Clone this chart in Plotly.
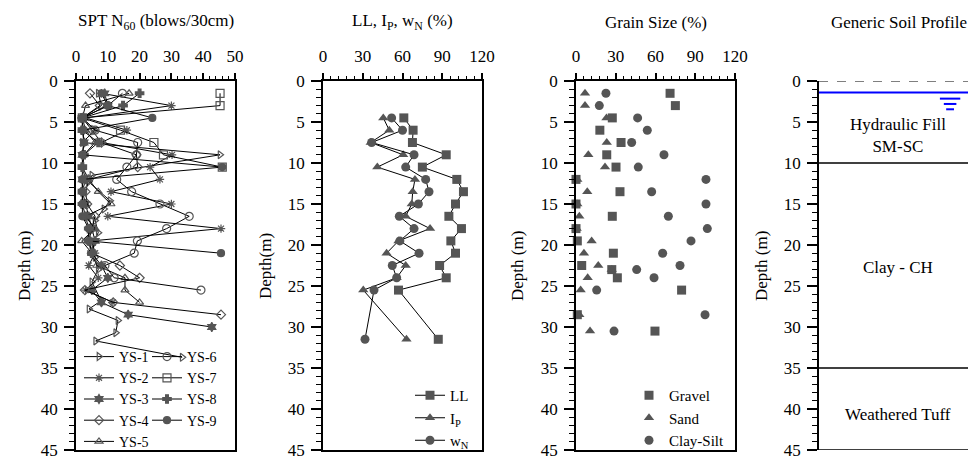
import plotly.graph_objects as go

FONT = "Liberation Serif, Times New Roman, DejaVu Serif, serif"
GRAY = "#555555"

# ---- SPT N60 (blows/30cm) per borehole ----
ys1_depth = [1.5, 3, 4.5, 6, 7.5, 9, 11.5, 12.3, 14.6, 15.6, 17, 18.5, 20, 21.5, 23, 24.5, 26.8, 27.8, 29.2, 30.7, 31.7, 33.7]
ys1_n = [7, 8, 2, 6, 2, 45.3, 5, 4, 10.7, 8.8, 6, 7, 5, 6, 7, 5, 7.9, 4.1, 13.2, 12.5, 6.2, 33.4]

ys2_depth = [1.5, 3, 4.5, 6, 7.5, 9, 10.5, 12, 13.5, 15, 16.5, 18, 19.5, 21, 22.5, 24, 25.5, 27]
ys2_n = [8, 30, 3, 16, 8, 30.2, 23.3, 26.4, 11, 30, 10, 45.6, 5, 6, 4, 7, 3, 11.6]

ys3_depth = [1.5, 3, 4.5, 6, 7.5, 9, 10.5, 12, 13.5, 15, 16.5, 18, 19.5, 21, 22.5, 24, 25.5, 27, 28.5, 30]
ys3_n = [9, 10, 2, 2, 2.5, 2, 2, 2, 2, 3, 4, 5, 6, 5, 8, 10, 5, 8, 16.4, 42.7]

ys4_depth = [1.5, 3, 4.5, 6, 7.5, 9, 10.5, 12, 13.5, 15, 16.5, 18, 19.5, 21, 22.5, 24, 25.5, 27, 28.5]
ys4_n = [4.4, 7.5, 2, 5, 8, 19, 19.4, 4, 3, 3.5, 6, 5, 4, 5, 13.8, 20, 2.8, 11.7, 45.6]

ys5_depth = [1.5, 3, 4.5, 6, 7.5, 9, 10.5, 12, 13.5, 15, 16.5, 18, 19.5, 21, 22.5, 24, 25.5, 27]
ys5_n = [16.7, 3, 2, 3, 6, 2.5, 2, 4, 7, 11, 3, 6, 1.8, 5, 6.5, 15.4, 15.4, 20]

ys6_depth = [1.5, 3, 4.5, 6, 7.5, 9, 10.5, 12, 13.5, 15, 16.5, 18, 19.5, 21, 22.5, 24, 25.5]
ys6_n = [14.6, 10, 2, 6, 19.4, 19, 16, 12.8, 17.5, 26.4, 35.6, 28.5, 19.3, 18.3, 9.1, 12, 39.3]

ys7_depth = [1.5, 3, 4.5, 6, 7.5, 9, 10.5]
ys7_n = [45.3, 45.3, 2, 14, 24.5, 27.5, 46]

ys8_depth = [1.5, 3, 4.5, 6, 7.5, 9, 10.5, 12, 13.5, 15, 16.5, 18, 19.5, 21]
ys8_n = [20, 14.8, 2, 2, 7, 2.5, 2, 3, 2, 2, 3, 4, 4, 5]

ys9_depth = [1.5, 3, 4.5, 6, 7.5, 9, 10.5, 12, 13.5, 15, 16.5, 18, 19.5, 21]
ys9_n = [8, 10, 24, 2.2, 2.5, 2, 46, 2, 2, 2, 2, 4, 4, 45.6]

# ---- Atterberg limits / water content (%) ----
ll_depth = [4.5, 6, 7.5, 9, 10.5, 12, 13.5, 15, 16.5, 18, 19.5, 21, 22.5, 24, 25.5, 31.5]
ll = [61, 68, 67.5, 93, 75, 101, 106, 100, 95, 104.5, 96.5, 100, 88, 93, 57, 87]
ip_depth = [4.5, 6, 7.5, 9, 10.5, 12, 13.5, 15, 16.5, 18, 19.5, 21, 22.5, 24, 25.5, 31.5]
ip = [45.5, 50, 36, 60.5, 41, 69.4, 67.7, 67, 62.4, 80.8, 57, 48, 62.4, 55.6, 30.4, 63]
wn_depth = [4.5, 6, 7.5, 9, 10.5, 12, 13.5, 15, 16.5, 18, 19.5, 21, 22.5, 24, 25.5, 31.5]
wn = [51.8, 60, 36.7, 68.7, 62.4, 77.5, 80, 72, 57.6, 68.7, 58, 72.5, 52.3, 55.6, 38.5, 31.7]

# ---- Grain size (%) ----
gravel_depth = [1.5, 3, 4.5, 6, 7.5, 9, 10.5, 12, 13.5, 15, 16.5, 18, 19.5, 21, 22.5, 23, 24, 25.5, 28.5, 30.5]
gravel = [71, 75, 27.4, 18, 34, 23.2, 30.2, 0, 33.2, 0, 27.4, 0, 1, 28.2, 4.3, 27, 31.2, 79.7, 1, 59.6]
sand_depth = [1.5, 3, 4.5, 7.5, 9, 10.5, 12, 13.5, 15, 16.5, 18, 19.5, 21, 22.5, 23, 24, 25.5, 28.5, 30.5]
sand = [6.8, 6.8, 23, 23.2, 9.3, 21.9, 1, 8.5, 1, 2.5, 0.5, 11.8, 6, 16.8, 27, 8.8, 3.5, 2.5, 10.6]
clay_depth = [1.5, 3, 4.5, 6, 7.5, 9, 10.5, 12, 13.5, 15, 16.5, 18, 19.5, 21, 22.5, 23, 24, 25.5, 28.5, 30.5]
clay = [22.6, 17.6, 46.5, 53.8, 42, 66.4, 47, 98.1, 57.1, 98.1, 69.7, 99.1, 86.8, 65.4, 78.5, 45.8, 58.9, 15.6, 97.4, 28.7]

# ---- Generic soil profile ----
layer_tops = [0, 10, 35]
layer_names = ["Hydraulic Fill<br>SM-SC", "Clay - CH", "Weathered Tuff"]
layer_label_depth = [6.6, 22.8, 40.7]
water_table = 1.4

# the page body has an 8px margin, so the figure is drawn 8px in from the window corner
OFF = 8
W, H = 976 - OFF, 457 - OFF


def px_x(px):
    return (px - OFF) / W


def px_y(py):
    return (457 - py) / H


X_DOM = [[px_x(76), px_x(235)], [px_x(323), px_x(482)], [px_x(576), px_x(735)], [px_x(819), 1.0]]
Y_DOM = [px_y(450), px_y(81)]

fig = go.Figure()

spt = [
    ("YS-1", ys1_depth, ys1_n, "triangle-right-open", 7, "legend"),
    ("YS-2", ys2_depth, ys2_n, "asterisk-open", 7, "legend"),
    ("YS-3", ys3_depth, ys3_n, "hexagram", 7, "legend"),
    ("YS-4", ys4_depth, ys4_n, "diamond-open", 7, "legend"),
    ("YS-5", ys5_depth, ys5_n, "triangle-up-open", 7, "legend"),
    ("YS-6", ys6_depth, ys6_n, "circle-open", 8, "legend2"),
    ("YS-7", ys7_depth, ys7_n, "square-open", 8, "legend2"),
    ("YS-8", ys8_depth, ys8_n, "cross", 7, "legend2"),
    ("YS-9", ys9_depth, ys9_n, "circle-cross", 7, "legend2"),
]
for name, d, n, sym, sz, lg in spt:
    fig.add_trace(go.Scatter(
        x=n, y=d, name=name, mode="lines+markers", xaxis="x", yaxis="y",
        line=dict(color="black", width=1),
        marker=dict(symbol=sym, size=sz, color=GRAY, line=dict(color=GRAY, width=1.2)),
        cliponaxis=False, legend=lg))

for name, d, v, sym in [("LL", ll_depth, ll, "square"),
                        ("I<sub>P</sub>", ip_depth, ip, "triangle-up"),
                        ("w<sub>N</sub>", wn_depth, wn, "circle")]:
    fig.add_trace(go.Scatter(
        x=v, y=d, name=name, mode="lines+markers", xaxis="x2", yaxis="y2",
        line=dict(color="black", width=1),
        marker=dict(symbol=sym, size=9, color=GRAY),
        cliponaxis=False, legend="legend3"))

for name, d, v, sym in [("Gravel", gravel_depth, gravel, "square"),
                        ("Sand", sand_depth, sand, "triangle-up"),
                        ("Clay-Silt", clay_depth, clay, "circle")]:
    fig.add_trace(go.Scatter(
        x=v, y=d, name=name, mode="markers", xaxis="x3", yaxis="y3",
        marker=dict(symbol=sym, size=9, color=GRAY),
        cliponaxis=False, legend="legend4"))


def xax(i, rng, dtick, mdtick, show=True):
    return dict(
        domain=X_DOM[i], range=rng, side="top", anchor="y" if i == 0 else "y%d" % (i + 1),
        showline=show, linecolor="black", linewidth=1.5, mirror=True,
        ticks="outside" if show else "", ticklen=6, tickwidth=1.5, tickcolor="black",
        tick0=0, dtick=dtick, showticklabels=show,
        minor=dict(dtick=mdtick, ticks="outside" if show else "", ticklen=3, tickwidth=1, tickcolor="black"),
        showgrid=False, zeroline=False, ticklabelstandoff=4,
        tickfont=dict(family=FONT, size=17, color="black"))


def yax(i, mirror=True):
    return dict(
        domain=Y_DOM, range=[45, 0], anchor="x" if i == 0 else "x%d" % (i + 1),
        showline=True, linecolor="black", linewidth=1.5, mirror=mirror,
        ticks="outside", ticklen=10, tickwidth=1.5, tickcolor="black",
        tick0=0, dtick=5, ticklabeloverflow="allow",
        minor=dict(dtick=1, ticks="outside", ticklen=5, tickwidth=1, tickcolor="black"),
        showgrid=False, zeroline=False, ticklabelstandoff=3,
        tickfont=dict(family=FONT, size=17, color="black"))


def leg(px, py, size):
    return dict(x=px_x(px), y=px_y(py), xanchor="left", yanchor="top", maxheight=200,
                font=dict(family=FONT, size=size, color="black"), bgcolor="rgba(0,0,0,0)",
                tracegroupgap=0, itemwidth=30)


fig.update_layout(
    width=W, height=H, margin=dict(l=0, r=0, t=0, b=0, autoexpand=False),
    paper_bgcolor="white", plot_bgcolor="white",
    font=dict(family=FONT, size=16, color="black"),
    xaxis=xax(0, [0, 50], 10, 2),
    xaxis2=xax(1, [0, 120], 30, 6),
    xaxis3=xax(2, [0, 120], 30, 6),
    xaxis4=xax(3, [0, 1], 1, 1, show=False),
    yaxis=yax(0), yaxis2=yax(1), yaxis3=yax(2), yaxis4=yax(3, mirror=False),
    legend=leg(79, 341, 14),
    legend2=leg(147, 341, 14),
    legend3=leg(410, 379, 15),
    legend4=leg(629, 379, 15),
)

# generic soil profile lines
shapes = [dict(type="line", xref="x4", yref="y4", x0=0, x1=1, y0=0, y1=0,
               line=dict(color="black", width=1.2, dash="dash")),
          dict(type="line", xref="x4", yref="y4", x0=0, x1=1, y0=45, y1=45,
               line=dict(color="black", width=1.5))]
for t in layer_tops[1:]:
    shapes.append(dict(type="line", xref="x4", yref="y4", x0=0, x1=1, y0=t, y1=t,
                       line=dict(color="black", width=1.5)))
shapes.append(dict(type="line", xref="x4", yref="y4", x0=0, x1=1, y0=water_table, y1=water_table,
                   line=dict(color="blue", width=2)))
for k, (a, b) in enumerate([(0.77, 0.90), (0.795, 0.875), (0.81, 0.86)]):
    yy = water_table + 0.75 + 0.65 * k
    shapes.append(dict(type="line", xref="x4", yref="y4", x0=a, x1=b, y0=yy, y1=yy,
                       line=dict(color="blue", width=2)))
fig.update_layout(shapes=shapes)

ann = []
titles = ["SPT N<sub>60</sub> (blows/30cm)", "LL, I<sub>P</sub>, w<sub>N</sub> (%)",
          "Grain Size (%)", "Generic Soil Profile"]
for t, cx in zip(titles, [155.5, 402.5, 655.5, 898.5]):
    ann.append(dict(text=t, x=px_x(cx), y=px_y(22),
                    xref="paper", yref="paper", showarrow=False, xanchor="center", yanchor="middle",
                    font=dict(family=FONT, size=17, color="black")))
for cx, t in [(24, "Depth (m)"), (265, "Depth(m)"), (517, "Depth (m)"), (761, "Depth (m)")]:
    ann.append(dict(text=t, x=px_x(cx), y=px_y(266), xref="paper", yref="paper", textangle=-90,
                    showarrow=False, xanchor="center", yanchor="middle",
                    font=dict(family=FONT, size=17, color="black")))
for name, d in zip(layer_names, layer_label_depth):
    ann.append(dict(text=name, x=px_x(898), y=d, xref="paper", yref="y4", showarrow=False,
                    xanchor="center", yanchor="middle",
                    font=dict(family=FONT, size=17, color="black")))
fig.update_layout(annotations=ann)

fig.write_html("out.html")
